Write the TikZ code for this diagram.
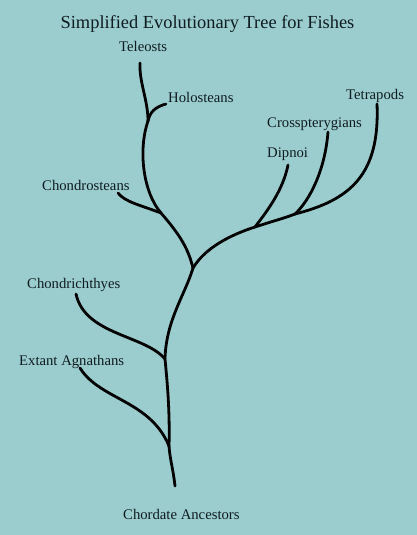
\documentclass[tikz,border=0pt]{standalone}
\usepackage{fontspec}
\setmainfont{Liberation Serif}
\definecolor{bgteal}{RGB}{155,205,207}
\definecolor{inkdark}{RGB}{15,28,32}
\begin{document}
\begin{tikzpicture}[x=1pt,y=-1pt,
  lbl/.style={anchor=base west,inner sep=0pt,text=inkdark,font=\fontsize{14.7}{17}\selectfont},
  ttl/.style={anchor=base,inner sep=0pt,text=inkdark,font=\fontsize{18.4}{21}\selectfont},
  branch/.style={draw=black,line width=2.8pt,line cap=round,line join=round}]
\fill[bgteal] (0,0) rectangle (417,535);
\useasboundingbox (0,0) rectangle (417,535);
% labels
\node[ttl] (title) at (207.5,29) {Simplified Evolutionary Tree for Fishes};
\node[lbl] (teleosts) at (119,52) {Teleosts};
\node[lbl] (holosteans) at (168,102) {Holosteans};
\node[lbl] (chondrosteans) at (42,190) {Chondrosteans};
\node[lbl] (tetrapods) at (346,99) {Tetrapods};
\node[lbl] (crossp) at (267,127) {Crosspterygians};
\node[lbl] (dipnoi) at (267,157) {Dipnoi};
\node[lbl] (chondrichthyes) at (27,288) {Chondrichthyes};
\node[lbl] (agnathans) at (19,365) {Extant Agnathans};
\node[lbl] (ancestors) at (123,519) {Chordate Ancestors};
% tips and junctions
\coordinate (root) at (175,486);
\coordinate (jA) at (169,446);
\coordinate (jC) at (165,359);
\coordinate (jM) at (193,268);
\coordinate (jS) at (161,213);
\coordinate (jH) at (148,121);
\coordinate (tT) at (140,63);
\coordinate (tH) at (166,104);
\coordinate (tS) at (118,193);
\coordinate (tCh) at (76,294);
\coordinate (tAg) at (80,368);
\coordinate (jD) at (255,227);
\coordinate (jX) at (295,214);
\coordinate (tD) at (288,165);
\coordinate (tX) at (328,132);
\coordinate (tTe) at (377,104);
% trunk
\draw[branch] (root) .. controls (173,468) and (170,460) .. (jA);
\draw[branch] (jA) .. controls (170,410) and (167,380) .. (jC);
\draw[branch] (jC) .. controls (166,320) and (185,295) .. (jM);
\draw[branch] (jM) .. controls (188,248) and (180,235) .. (jS);
\draw[branch] (jS) .. controls (143,192) and (138,150) .. (jH);
\draw[branch] (jH) .. controls (148,100) and (139,82) .. (tT);
% left side branches
\draw[branch] (tH) .. controls (155,107) and (150,112) .. (jH);
\draw[branch] (tS) .. controls (125,202) and (140,205) .. (jS);
\draw[branch] (tCh) .. controls (85,335) and (145,335) .. (jC);
\draw[branch] (tAg) .. controls (100,400) and (150,400) .. (jA);
% right side branches
\draw[branch] (jM) .. controls (205,248) and (230,235) .. (jD);
\draw[branch] (jD) .. controls (270,222) and (285,218) .. (jX);
\draw[branch] (tD) .. controls (283,190) and (268,210) .. (jD);
\draw[branch] (tX) .. controls (325,170) and (310,200) .. (jX);
\draw[branch] (tTe) .. controls (380,175) and (350,200) .. (jX);
\end{tikzpicture}
\end{document}
